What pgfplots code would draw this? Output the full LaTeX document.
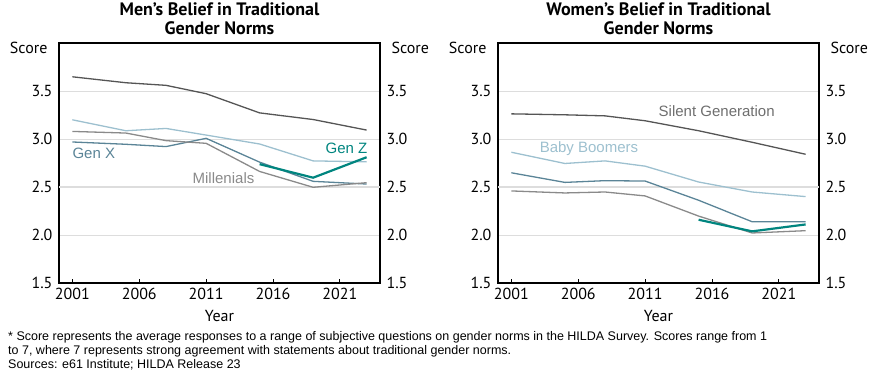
\documentclass[border=0pt]{standalone}
\usepackage{pgfplots}
\pgfplotsset{compat=1.18}
\usepackage{fontspec}
\setmainfont{PT Sans}
\newfontfamily\labelfont{Liberation Sans}
\newfontfamily\notefont{Liberation Sans}
\definecolor{cSilent}{HTML}{555555}
\definecolor{cBoom}{HTML}{9DC0CF}
\definecolor{cGenX}{HTML}{5A8497}
\definecolor{cMill}{HTML}{8A8A8A}
\definecolor{cGenZ}{HTML}{00857F}
\definecolor{cGrid}{HTML}{DDDDDD}
\pgfplotsset{
  panel/.style={
    scale only axis, width=321pt, height=240pt,
    xmin=2000, xmax=2024, ymin=1.5, ymax=4.0,
    xtick={2001,2006,2011,2016,2021},
    ytick={1.5,2.0,2.5,3.0,3.5},
    xtick pos=bottom, ytick pos=left,
    tick align=inside,
    major tick length=4pt,
    ytick style={draw=none},
    xtick style={black, line width=0.8pt},
    ymajorgrids, grid style={cGrid, line width=0.7pt},
    axis line style={black, line width=1.4pt},
    tick label style={font=\fontsize{16}{18}\selectfont, black},
    /pgf/number format/assume math mode=true,
    yticklabel style={xshift=-3pt, /pgf/number format/.cd, fixed, fixed zerofill, precision=1},
    xticklabel style={yshift=-2pt, /pgf/number format/.cd, 1000 sep={}},
  },
  rpanel/.style={
    scale only axis, width=321pt, height=240pt,
    xmin=2000, xmax=2024, ymin=1.5, ymax=4.0,
    ytick={1.5,2.0,2.5,3.0,3.5},
    axis x line=none, axis y line*=right,
    ytick style={draw=none},
    axis line style={draw=none},
    tick label style={font=\fontsize{16}{18}\selectfont, black},
    /pgf/number format/assume math mode=true,
    yticklabel style={xshift=3pt, /pgf/number format/.cd, fixed, fixed zerofill, precision=1},
  },
  gen/.style={line width=1.3pt},
}
\begin{document}
\begin{tikzpicture}
\useasboundingbox (0pt,0pt) rectangle (879pt,373pt);
% ---------------- Men ----------------
\begin{axis}[panel, at={(59pt,90pt)}, anchor=south west]
\draw[cGrid, line width=2pt] (axis cs:2000,2.5) -- (axis cs:2024,2.5);
\addplot[cSilent, gen] coordinates {(2001,3.648)(2005,3.586)(2008,3.559)(2011,3.472)(2015,3.272)(2019,3.203)(2023,3.093)};
\addplot[cBoom, gen] coordinates {(2001,3.200)(2005,3.086)(2008,3.110)(2011,3.041)(2015,2.948)(2019,2.772)(2023,2.762)};
\addplot[cGenX, gen] coordinates {(2001,2.969)(2005,2.945)(2008,2.921)(2011,3.007)(2015,2.759)(2019,2.559)(2023,2.531)};
\addplot[cMill, gen] coordinates {(2001,3.079)(2005,3.062)(2008,2.983)(2011,2.955)(2015,2.662)(2019,2.497)(2023,2.545)};
\addplot[cGenZ, line width=2.2pt] coordinates {(2015,2.738)(2019,2.597)(2023,2.810)};
\node[font=\labelfont\fontsize{15}{17}\selectfont, text=cGenX] at (axis cs:2002.6,2.847) {Gen X};
\node[font=\labelfont\fontsize{15}{17}\selectfont, text=cMill] at (axis cs:2012.3,2.588) {Millenials};
\node[font=\labelfont\fontsize{15}{17}\selectfont, text=cGenZ] at (axis cs:2021.5,2.900) {Gen Z};
\end{axis}
\begin{axis}[rpanel, at={(59pt,90pt)}, anchor=south west]
\addplot[draw=none] coordinates {(2001,2)};
\end{axis}
% ---------------- Women ----------------
\begin{axis}[panel, at={(498pt,90pt)}, anchor=south west]
\draw[cGrid, line width=2pt] (axis cs:2000,2.5) -- (axis cs:2024,2.5);
\addplot[cSilent, gen] coordinates {(2001,3.262)(2005,3.252)(2008,3.241)(2011,3.190)(2015,3.086)(2019,2.966)(2023,2.841)};
\addplot[cBoom, gen] coordinates {(2001,2.862)(2005,2.745)(2008,2.772)(2011,2.717)(2015,2.552)(2019,2.448)(2023,2.400)};
\addplot[cGenX, gen] coordinates {(2001,2.648)(2005,2.548)(2008,2.566)(2011,2.562)(2015,2.362)(2019,2.138)(2023,2.138)};
\addplot[cMill, gen] coordinates {(2001,2.459)(2005,2.438)(2008,2.448)(2011,2.407)(2015,2.197)(2019,2.021)(2023,2.045)};
\addplot[cGenZ, line width=2.2pt] coordinates {(2015,2.159)(2019,2.038)(2023,2.110)};
\node[font=\labelfont\fontsize{15}{17}\selectfont, text=cSilent!85] at (axis cs:2016.35,3.293) {Silent Generation};
\node[font=\labelfont\fontsize{15}{17}\selectfont, text=cBoom] at (axis cs:2006.8,2.899) {Baby Boomers};
\end{axis}
\begin{axis}[rpanel, at={(498pt,90pt)}, anchor=south west]
\addplot[draw=none] coordinates {(2001,2)};
\end{axis}
% ---------------- Titles and labels ----------------
\node[font=\bfseries\fontsize{18}{19.5}\selectfont, align=center] at (219.5pt,354.5pt) {Men's Belief in Traditional\\Gender Norms};
\node[font=\bfseries\fontsize{18}{19.5}\selectfont, align=center] at (658.5pt,354.5pt) {Women's Belief in Traditional\\Gender Norms};
\node[font=\fontsize{16}{18}\selectfont, anchor=east] at (51pt,325pt) {Score};
\node[font=\fontsize{16}{18}\selectfont, anchor=west] at (388pt,325pt) {Score};
\node[font=\fontsize{16}{18}\selectfont] at (219.5pt,57pt) {Year};
\node[font=\fontsize{16}{18}\selectfont, anchor=east] at (490pt,325pt) {Score};
\node[font=\fontsize{16}{18}\selectfont, anchor=west] at (827pt,325pt) {Score};
\node[font=\fontsize{16}{18}\selectfont] at (658.5pt,57pt) {Year};
\node[font=\notefont\fontsize{12.5}{14}\selectfont, anchor=north west, align=left, inner sep=0pt] at (8pt,42pt) {* Score represents the average responses to a range of subjective questions on gender norms in the HILDA Survey. Scores range from 1\\to 7, where 7 represents strong agreement with statements about traditional gender norms.\\Sources: e61 Institute; HILDA Release 23};
\end{tikzpicture}
\end{document}
